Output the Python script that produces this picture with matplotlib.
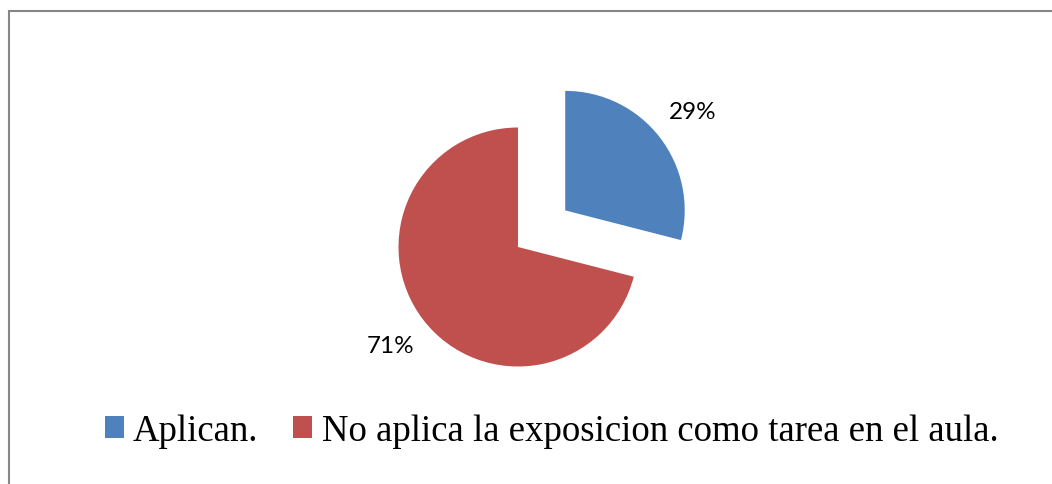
import matplotlib
matplotlib.use("Agg")
import matplotlib.pyplot as plt
from matplotlib.patches import Rectangle

# data
labels = ["Aplican.", "No aplica la exposicion como tarea en el aula."]
values = [29, 71]
colors = ["#4F81BD", "#C0504D"]
explode = [0.5, 0.0]

W, H = 1052, 485
fig = plt.figure(figsize=(W / 100, H / 100), dpi=100)

# pie axes: centre at (518, 248) px from top-left, radius ~119.5 px
R = 119.5
lim = 1.8
side = 2 * lim * R
cx, cy = 518, H - 248
ax = fig.add_axes([(cx - side / 2) / W, (cy - side / 2) / H, side / W, side / H])

wedges, texts, autotexts = ax.pie(
    values, colors=colors, explode=explode, startangle=90, counterclock=False,
    autopct="%1.0f%%", pctdistance=1.35,
    wedgeprops=dict(linewidth=0),
    textprops=dict(fontsize=17.5, family="Lato", color="black"),
)
ax.set_xlim(-lim, lim)
ax.set_ylim(-lim, lim)

# legend along the bottom
leg = fig.legend(
    wedges, labels, loc="center", bbox_to_anchor=(551.5 / W, 1 - 432 / H),
    ncol=2, frameon=False, prop=dict(family="Liberation Serif", size=26.5),
    handlelength=0.52, handleheight=0.52, handletextpad=0.25,
    columnspacing=0.95, borderpad=0, borderaxespad=0,
)

# chart-area border (right and bottom edges fall outside the picture)
fig.add_artist(Rectangle((9 / W, -0.1), 1.2, 1.1 - 12 / H,
                         transform=fig.transFigure, fill=False,
                         edgecolor="#868686", linewidth=1.5))

fig.savefig("out.png", dpi=100)
